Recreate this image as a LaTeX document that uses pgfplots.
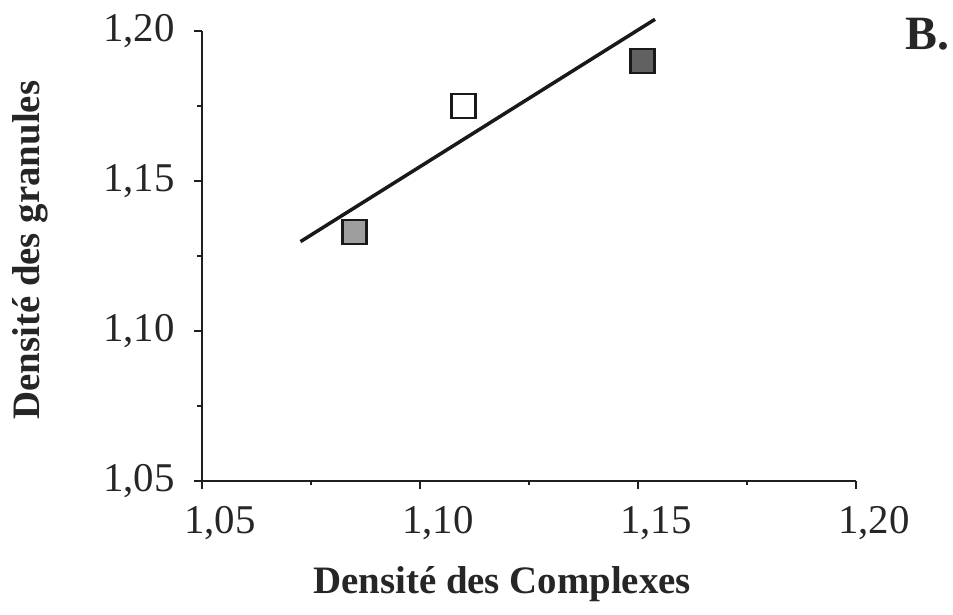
\documentclass[border=0pt]{standalone}
\usepackage{pgfplots}
\pgfplotsset{compat=1.18}
\usepackage{fontspec}
\setmainfont{Liberation Serif}
\begin{document}
\begin{tikzpicture}
\useasboundingbox (0,0) rectangle (953bp,615bp);
\begin{axis}[
  at={(202bp,134bp)}, anchor=south west,
  scale only axis, width=654bp, height=450bp,
  xmin=1.05, xmax=1.20, ymin=1.05, ymax=1.20,
  axis lines*=left,
  axis line style={line width=2.2bp, color=black!88},
  xtick={1.05,1.10,1.15,1.20},
  xticklabels={{1,05},{1,10},{1,15},{1,20}},
  ytick={1.05,1.10,1.15,1.20},
  yticklabels={{1,05},{1,10},{1,15},{1,20}},
  minor x tick num=1, minor y tick num=1,
  tick align=outside, major tick length=8bp, minor tick length=4.5bp,
  tick style={line width=1.8bp, color=black!88},
  ticklabel style={font=\fontsize{41}{41}\selectfont, text=black!85},
  xticklabel style={anchor=north, inner sep=0pt, yshift=-17bp, xshift=18bp},
  yticklabel style={anchor=east, inner sep=0pt, xshift=-19bp},
  clip=false,
]
% fitted line
\addplot[line width=3.5bp, black!90] coordinates {(1.0726,1.1298) (1.1539,1.2039)};
% the three measured points
\addplot[only marks, mark=square*, mark size=12bp,
  mark options={draw=black!90, line width=2.7bp, fill=black!38}]
  coordinates {(1.085,1.133)};
\addplot[only marks, mark=square*, mark size=12bp,
  mark options={draw=black!90, line width=2.7bp, fill=white}]
  coordinates {(1.110,1.175)};
\addplot[only marks, mark=square*, mark size=12bp,
  mark options={draw=black!90, line width=2.7bp, fill=black!62}]
  coordinates {(1.151,1.190)};

\node[rotate=90, font=\bfseries\fontsize{39}{39}\selectfont, text=black!85]
  at (axis description cs:-0.263,0.513) {Densité des granules};
\node[anchor=base, font=\bfseries\fontsize{39}{39}\selectfont, text=black!85]
  at (axis description cs:0.459,-0.249) {Densité des Complexes};
\node[anchor=base west, inner sep=0pt, font=\bfseries\fontsize{48}{48}\selectfont, text=black!85]
  at (axis description cs:1.075,0.958) {B.};
\end{axis}
\end{tikzpicture}
\end{document}
